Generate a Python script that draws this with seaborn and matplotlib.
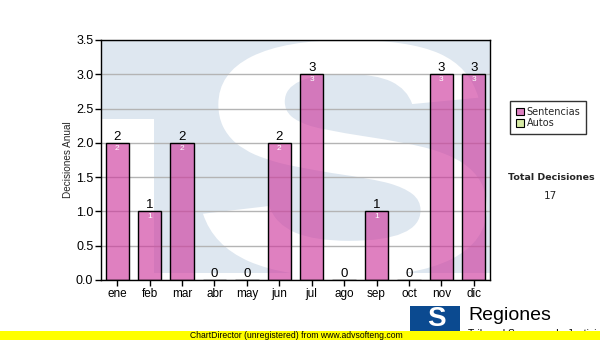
import matplotlib
matplotlib.use("Agg")
import matplotlib.pyplot as plt
import seaborn as sns
import pandas as pd
from matplotlib.textpath import TextPath
from matplotlib.font_manager import FontProperties
from matplotlib.patches import PathPatch, Rectangle
from matplotlib.transforms import Affine2D

months = ["ene", "feb", "mar", "abr", "may", "jun", "jul", "ago", "sep", "oct", "nov", "dic"]
sentencias = [2, 1, 2, 0, 0, 2, 3, 0, 1, 0, 3, 3]
legend_labels = ["Sentencias", "Autos"]
total_label = "Total Decisiones"
total_value = 17
y_ticks = [0.0, 0.5, 1.0, 1.5, 2.0, 2.5, 3.0, 3.5]

sns.set_theme(style="white")
plt.rcParams["font.family"] = ["Liberation Sans", "DejaVu Sans"]

PINK = (206/255, 57/255, 157/255, 0.64)
BLUE_BG = "#dee7f0"

fig = plt.figure(figsize=(6, 3.4), dpi=100)
ax = fig.add_axes([101/600, 1-280/340, 389/600, 240/340])
ax.set_facecolor("white")

# watermark (TS logo)
ax.add_patch(Rectangle((0, 7/240), 1, 1 - 7/240, transform=ax.transAxes,
                       facecolor=BLUE_BG, edgecolor="none", zorder=0.1))
ax.add_patch(Rectangle((0, 0), 53/389, 161/240, transform=ax.transAxes,
                       facecolor="white", edgecolor="none", zorder=0.15))
tp = TextPath((0, 0), "S", size=100, prop=FontProperties(family="Liberation Sans", weight="bold"))
ext = tp.get_extents()
x0, x1 = 102/389, 386/389
y0, y1 = 3/240, 1.0
tr = Affine2D().translate(-ext.x0, -ext.y0).scale((x1-x0)/ext.width, (y1-y0)/ext.height).translate(x0, y0)
ax.add_patch(PathPatch(tr.transform_path(tp), transform=ax.transAxes,
                       facecolor="white", edgecolor="none", zorder=0.2))

df = pd.DataFrame({"mes": months, "valor": sentencias})
sns.barplot(data=df, x="mes", y="valor", color=PINK[:3], saturation=1, width=0.72,
            edgecolor="black", linewidth=1, ax=ax, zorder=2)
for p in ax.patches:
    if isinstance(p, Rectangle) and p.get_zorder() == 2:
        p.set_facecolor(PINK)
        p.set_edgecolor((0, 0, 0, 1))

for i, v in enumerate(sentencias):
    ax.text(i, v, str(v), ha="center", va="bottom", fontsize=9.5, color="black", zorder=4)
    if v > 0:
        ax.text(i, v, str(v), ha="center", va="top", fontsize=6, color="white",
                zorder=4, transform=ax.transData + Affine2D().translate(0, -2))

ax.set_xlim(-0.5, len(months) - 0.5)
ax.set_ylim(0, 3.5)
ax.set_yticks(y_ticks)
ax.set_yticklabels([f"{t:.1f}" for t in y_ticks], fontsize=9)
ax.set_xticks(range(len(months)))
ax.set_xticklabels(months, fontsize=8.5)
ax.set_xlabel("")
ax.set_ylabel("Decisiones Anual", fontsize=7.2, labelpad=2)
ax.yaxis.grid(True, color="#b4b4b4", linewidth=1)
ax.set_axisbelow(True)
ax.tick_params(axis="both", which="both", direction="out", length=4, width=1,
               color="black", left=True, bottom=True, pad=1.5, labelcolor="black")
for s in ax.spines.values():
    s.set_visible(True)
    s.set_color("black")
    s.set_linewidth(1)

# legend
handles = [Rectangle((0, 0), 1, 1, facecolor="#dd80c1", edgecolor="black", linewidth=0.8),
           Rectangle((0, 0), 1, 1, facecolor="#d6eaa4", edgecolor="black", linewidth=0.8)]
leg = fig.legend(handles, legend_labels, loc="upper left", bbox_to_anchor=(510/600, 1-101/340),
                 frameon=True, fancybox=False, handlelength=0.8, handleheight=0.8,
                 handletextpad=0.3, borderpad=0.6, labelspacing=0.15, borderaxespad=0,
                 prop={"family": "DejaVu Sans", "size": 7})
leg.get_frame().set_edgecolor("black")
leg.get_frame().set_linewidth(1)

fig.text(551/600, 1-178/340, total_label, ha="center", va="center", fontsize=6.8,
         fontweight="bold", family="DejaVu Sans")
fig.text(550/600, 1-196/340, str(total_value), ha="center", va="center", fontsize=7.5,
         family="DejaVu Sans")

# footer logo
fig.patches.append(Rectangle((410/600, 1-334/340), 50/600, 28/340, transform=fig.transFigure,
                             facecolor="#0b4a90", edgecolor="none", zorder=1, figure=fig))
fig.text(436/600, 1-319/340, "S", ha="center", va="center", fontsize=20, fontweight="bold",
         color="white", family="Liberation Sans", zorder=2)
fig.text(468/600, 1-316/340, "Regiones", ha="left", va="center", fontsize=14,
         color="black", family="Liberation Sans", zorder=2)
fig.text(468/600, 1-334/340, "Tribunal Supremo de Justicia", ha="left", va="center", fontsize=7.5,
         color="black", family="Liberation Sans", zorder=2)
fig.patches.append(Rectangle((0, 0), 1, 9/340, transform=fig.transFigure,
                             facecolor="#ffff00", edgecolor="none", zorder=5, figure=fig))
fig.text(296/600, 4.5/340, "ChartDirector (unregistered) from www.advsofteng.com", ha="center",
         va="center", fontsize=6.2, color="black", family="Liberation Sans", zorder=6)

fig.savefig("out.png", dpi=100, facecolor="white")
